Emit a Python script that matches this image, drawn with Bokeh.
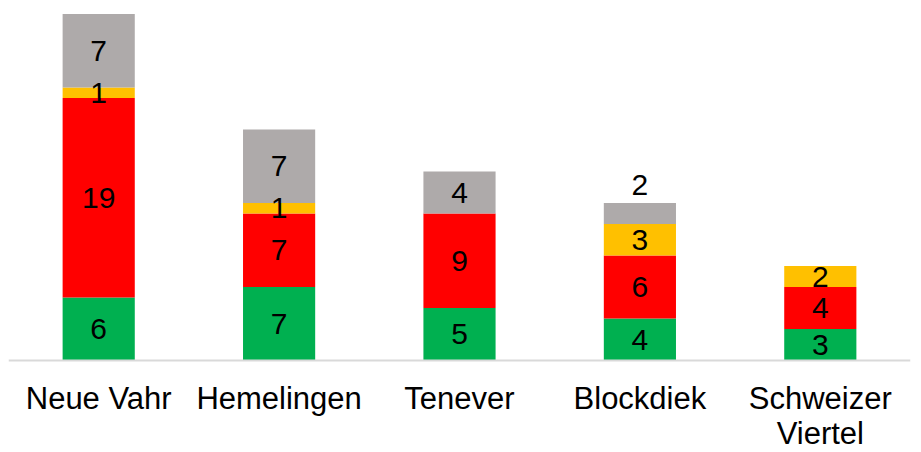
from bokeh.plotting import figure
from bokeh.models import ColumnDataSource, FactorRange, Range1d, Span
from bokeh.core.properties import value
from bokeh.embed import file_html
from bokeh.resources import INLINE

# Districts and their counts per status group (bottom to top)
districts = ["Neue Vahr", "Hemelingen", "Tenever", "Blockdiek", "Schweizer\nViertel"]
green = [6, 7, 5, 4, 3]
red = [19, 7, 9, 6, 4]
yellow = [1, 1, 0, 3, 2]
gray = [7, 7, 4, 2, 0]

series = ["green", "red", "yellow", "gray"]
colors = ["#00B050", "#FF0000", "#FFC000", "#AEAAAA"]

data = {"district": districts, "green": green, "red": red, "yellow": yellow, "gray": gray}
source = ColumnDataSource(data)

# The frame covers the whole page; the area below zero holds the district names
p = figure(
    x_range=FactorRange(*districts, range_padding=0.0),
    y_range=Range1d(-8.762, 34.286),
    width=921, height=452,
    output_backend="svg", toolbar_location=None,
    min_border_left=8, min_border_right=11, min_border_top=0, min_border_bottom=0,
    outline_line_color=None,
)

p.vbar_stack(series, x="district", width=0.4, color=colors, source=source,
             line_color=None)

# Segment value labels, centred in each segment; the small top segment of
# Blockdiek gets its label just above the bar
lx, ly, lt = [], [], []
for i, d in enumerate(districts):
    base = 0
    vals = [green[i], red[i], yellow[i], gray[i]]
    total = sum(vals)
    for k, v in enumerate(vals):
        if v > 0:
            lx.append(d)
            if d == "Blockdiek" and k == 3:
                ly.append(total + 1.7)
            else:
                ly.append(base + v / 2)
            lt.append(str(v))
        base += v

p.text(x=lx, y=ly, text=lt, text_align="center", text_baseline="middle",
       text_font=value("Liberation Sans"), text_font_size="30px",
       text_color="black")

# Baseline
p.add_layout(Span(location=0, dimension="width", line_color="#D9D9D9", line_width=2))

# District names under the baseline, one text per line
line_y = [-3.62, -6.95]
nx, ny, nt = [], [], []
for d in districts:
    for j, part in enumerate(d.split("\n")):
        nx.append(d)
        ny.append(line_y[j])
        nt.append(part)

p.text(x=nx, y=ny, text=nt, text_align="center", text_baseline="middle",
       text_font=value("Liberation Sans"), text_font_size="31px",
       text_color="black")

p.grid.visible = False
p.axis.visible = False

open("out.html", "w").write(file_html(p, INLINE))
